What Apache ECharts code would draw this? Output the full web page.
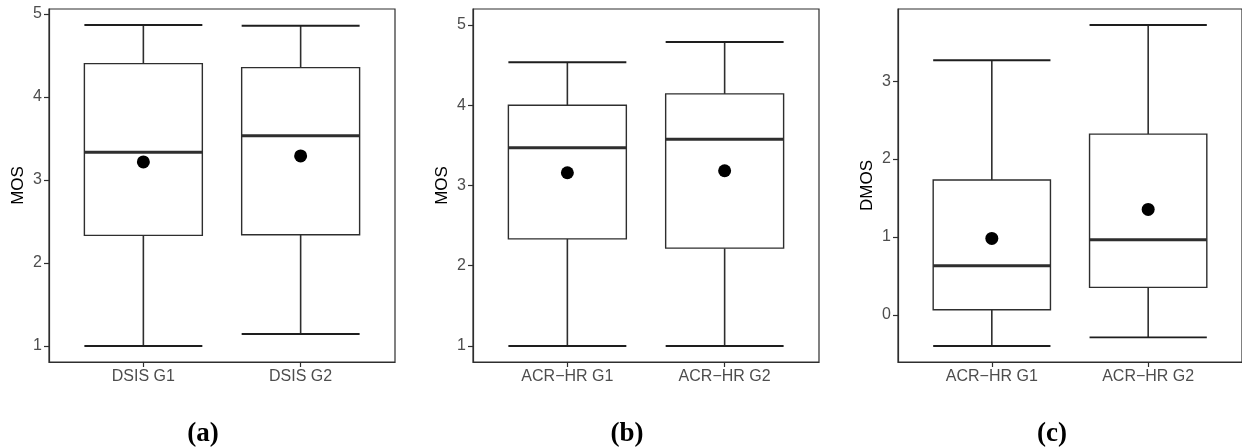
<!DOCTYPE html>
<html>
<head>
<meta charset="utf-8">
<script src="https://cdn.jsdelivr.net/npm/echarts@6/dist/echarts.min.js"></script>
<style>
  html, body { margin: 0; padding: 0; background: #fff; }
  #chart { width: 1242px; height: 448px; }
</style>
</head>
<body>
<div id="chart"></div>
<script>
// Group labels for each panel
const catsA = ['DSIS G1', 'DSIS G2'];
const catsB = ['ACR\u2212HR G1', 'ACR\u2212HR G2'];
const catsC = ['ACR\u2212HR G1', 'ACR\u2212HR G2'];

// Box statistics per group: [lower whisker, Q1, median, Q3, upper whisker]
const boxA = [[1.00, 2.333, 3.334, 4.403, 4.868], [1.144, 2.340, 3.534, 4.355, 4.860]];
const boxB = [[1.00, 2.335, 3.470, 4.000, 4.536], [1.00, 2.219, 3.575, 4.142, 4.789]];
const boxC = [[-0.401, 0.064, 0.631, 1.732, 3.269], [-0.291, 0.352, 0.964, 2.321, 3.722]];

// Group means
const meanA = [3.218, 3.290];
const meanB = [3.159, 3.184];
const meanC = [0.981, 1.353];

// Y-axis limits and tick values per panel
const yLimA = [0.807, 5.061];
const yLimB = [0.80, 5.20];
const yLimC = [-0.607, 3.928];
const ticksA = [1, 2, 3, 4, 5];
const ticksB = [1, 2, 3, 4, 5];
const ticksC = [0, 1, 2, 3];

const yNames = ['MOS', 'MOS', 'DMOS'];
const panelTags = ['(a)', '(b)', '(c)'];

const panels = [
  { cats: catsA, box: boxA, mean: meanA, lim: yLimA, ticks: ticksA },
  { cats: catsB, box: boxB, mean: meanB, lim: yLimB, ticks: ticksB },
  { cats: catsC, box: boxC, mean: meanC, lim: yLimC, ticks: ticksC }
];

const gridLefts = [49, 473, 898];
const tagCenters = [203, 627, 1052];
const INK = '#2e2e2e';
const LABEL = '#4d4d4d';
const SANS = '"Liberation Sans", Arial, sans-serif';
const BOX_W = 0.75;

const grids = [], xAxes = [], yAxes = [], series = [], graphics = [];

panels.forEach((p, i) => {
  grids.push({
    left: gridLefts[i], top: 9, width: 346, height: 353,
    show: true, borderColor: INK, borderWidth: 1.2, backgroundColor: 'transparent'
  });
  xAxes.push({
    type: 'value', gridIndex: i, min: 0.4, max: 2.6,
    axisLine: { show: true, onZero: false, lineStyle: { color: INK, width: 1.2 } },
    axisTick: { show: true, length: 5, customValues: [1, 2], lineStyle: { color: INK, width: 1.2 } },
    axisLabel: {
      customValues: [1, 2], margin: 7, color: LABEL, fontSize: 16, fontFamily: SANS,
      formatter: v => p.cats[Math.round(v) - 1]
    },
    splitLine: { show: false }
  });
  yAxes.push({
    type: 'value', gridIndex: i, min: p.lim[0], max: p.lim[1],
    name: yNames[i], nameLocation: 'middle', nameRotate: 90, nameGap: 22,
    nameTextStyle: { color: '#000', fontSize: 17, fontFamily: SANS },
    axisLine: { show: true, onZero: false, lineStyle: { color: INK, width: 1.2 } },
    axisTick: { show: true, length: 5, customValues: p.ticks, lineStyle: { color: INK, width: 1.2 } },
    axisLabel: {
      customValues: p.ticks, margin: 7, color: LABEL, fontSize: 16, fontFamily: SANS
    },
    splitLine: { show: false }
  });

  // Boxes with whiskers, caps and median bar
  series.push({
    type: 'custom', xAxisIndex: i, yAxisIndex: i,
    data: p.box.map((b, k) => [k + 1].concat(b)),
    encode: { x: 0, y: [1, 2, 3, 4, 5] },
    renderItem: (params, api) => {
      const x = api.value(0);
      const lo = api.coord([x, api.value(1)]);
      const q1 = api.coord([x, api.value(2)]);
      const md = api.coord([x, api.value(3)]);
      const q3 = api.coord([x, api.value(4)]);
      const hi = api.coord([x, api.value(5)]);
      const w = api.size([BOX_W, 0])[0];
      const cx = lo[0];
      const xl = cx - w / 2, xr = cx + w / 2;
      const line = (x1, y1, x2, y2, lw, col) => ({
        type: 'line',
        shape: { x1, y1, x2, y2 },
        style: { stroke: col || INK, lineWidth: lw }
      });
      return {
        type: 'group',
        children: [
          line(cx, q1[1], cx, lo[1], 1.6),
          line(cx, q3[1], cx, hi[1], 1.6),
          line(xl, lo[1], xr, lo[1], 1.9, '#1e1e1e'),
          line(xl, hi[1], xr, hi[1], 1.9, '#1e1e1e'),
          {
            type: 'rect',
            shape: { x: xl, y: q3[1], width: w, height: q1[1] - q3[1] },
            style: { fill: '#fff', stroke: INK, lineWidth: 1.4 }
          },
          line(xl, md[1], xr, md[1], 3)
        ]
      };
    },
    z: 2
  });

  // Mean markers
  series.push({
    type: 'scatter', xAxisIndex: i, yAxisIndex: i,
    data: p.mean.map((m, k) => [k + 1, m]),
    symbol: 'circle', symbolSize: 13,
    itemStyle: { color: '#000', opacity: 1 },
    z: 3
  });

  graphics.push({
    type: 'text', x: tagCenters[i], y: 434,
    style: {
      text: panelTags[i], fill: '#000',
      font: 'bold 27px "Liberation Serif", "Times New Roman", serif',
      textAlign: 'center', textVerticalAlign: 'middle'
    }
  });
});

const chart = echarts.init(document.getElementById('chart'), null, { renderer: 'canvas' });
chart.setOption({
  animation: false,
  backgroundColor: '#fff',
  grid: grids,
  xAxis: xAxes,
  yAxis: yAxes,
  series: series,
  graphic: graphics
});
</script>
</body>
</html>
